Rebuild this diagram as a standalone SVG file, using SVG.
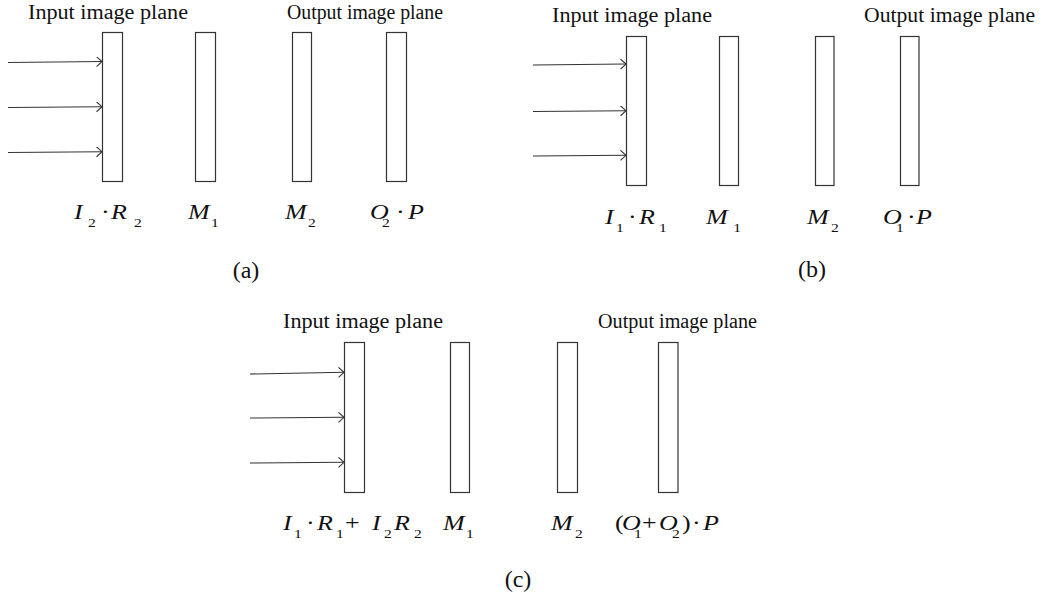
<svg xmlns="http://www.w3.org/2000/svg" width="1047" height="600" viewBox="0 0 1047 600">
<style>
.plane{fill:#fff;stroke:#333;stroke-width:1.2}
.ray{stroke:#333;stroke-width:1.1;fill:none}
.head{stroke:#333;stroke-width:1.1;fill:none}
.cap{font-family:"Liberation Serif",serif;font-size:20px;fill:#111}
.m{font-family:"Liberation Serif",serif;font-size:20px;font-style:italic;fill:#111}
.s{font-style:normal;font-size:12px}
.u{font-style:normal}
.tag{font-family:"Liberation Serif",serif;font-size:24px;fill:#111}
</style>
<defs>
<marker id="arr" markerWidth="8" markerHeight="12" refX="6" refY="5" orient="auto" markerUnits="userSpaceOnUse">
<path d="M0.5,0 L6,5 L0.5,10" class="head"/>
</marker>
</defs>

<!-- Panel (a) -->
<g id="panel-a">
<text class="cap" x="28" y="19" textLength="160" lengthAdjust="spacingAndGlyphs">Input image plane</text>
<text class="cap" x="287" y="19" textLength="156" lengthAdjust="spacingAndGlyphs">Output image plane</text>
<g id="a-input"><rect class="plane" x="102.5" y="32.5" width="20" height="149"/></g>
<g id="a-m1"><rect class="plane" x="195.5" y="32.5" width="20" height="149"/></g>
<g id="a-m2"><rect class="plane" x="292.5" y="32.5" width="19" height="149"/></g>
<g id="a-output"><rect class="plane" x="386.5" y="32.5" width="20" height="149"/></g>
<text class="m" transform="translate(74 0) scale(1.3 1)"><tspan x="0" y="219">I</tspan><tspan class="s" x="10.8" y="227">2</tspan><tspan class="u" x="20.8" y="219">·</tspan><tspan x="28.5" y="219">R</tspan><tspan class="s" x="46.2" y="227">2</tspan></text>
<text class="m" transform="translate(188 0) scale(1.3 1)"><tspan x="0" y="219">M</tspan><tspan class="s" x="17.7" y="227">1</tspan></text>
<text class="m" transform="translate(285 0) scale(1.3 1)"><tspan x="0" y="219">M</tspan><tspan class="s" x="17.7" y="227">2</tspan></text>
<text class="m" transform="translate(370 0) scale(1.3 1)"><tspan x="0" y="219">O</tspan><tspan class="s" x="9.2" y="227">2</tspan><tspan class="u" x="20" y="219">·</tspan><tspan x="29.2" y="219">P</tspan></text>
<text class="tag" x="246" y="278" text-anchor="middle">(a)</text>
</g>

<!-- Panel (b) -->
<g id="panel-b">
<text class="cap" x="552" y="22" textLength="160" lengthAdjust="spacingAndGlyphs">Input image plane</text>
<text class="cap" x="864" y="22" textLength="171" lengthAdjust="spacingAndGlyphs">Output image plane</text>
<g id="b-input"><rect class="plane" x="626.5" y="36.5" width="20" height="149"/></g>
<g id="b-m1"><rect class="plane" x="719.5" y="36.5" width="19" height="149"/></g>
<g id="b-m2"><rect class="plane" x="815.5" y="36.5" width="18.5" height="149"/></g>
<g id="b-output"><rect class="plane" x="900.5" y="36.5" width="18.5" height="149"/></g>
<text class="m" transform="translate(605 0) scale(1.3 1)"><tspan x="0" y="224">I</tspan><tspan class="s" x="8.5" y="232">1</tspan><tspan class="u" x="17.7" y="224">·</tspan><tspan x="26.2" y="224">R</tspan><tspan class="s" x="41.5" y="232">1</tspan></text>
<text class="m" transform="translate(706 0) scale(1.3 1)"><tspan x="0" y="224">M</tspan><tspan class="s" x="21" y="232">1</tspan></text>
<text class="m" transform="translate(807 0) scale(1.3 1)"><tspan x="0" y="224">M</tspan><tspan class="s" x="18.5" y="232">2</tspan></text>
<text class="m" transform="translate(883 0) scale(1.3 1)"><tspan x="0" y="224">O</tspan><tspan class="s" x="10" y="232">1</tspan><tspan class="u" x="18.5" y="224">·</tspan><tspan x="25.4" y="224">P</tspan></text>
<text class="tag" x="812" y="277" text-anchor="middle">(b)</text>
</g>

<!-- Panel (c) -->
<g id="panel-c">
<text class="cap" x="283" y="328" textLength="160" lengthAdjust="spacingAndGlyphs">Input image plane</text>
<text class="cap" x="598" y="328" textLength="159" lengthAdjust="spacingAndGlyphs">Output image plane</text>
<g id="c-input"><rect class="plane" x="344.5" y="342.5" width="20" height="150"/></g>
<g id="c-m1"><rect class="plane" x="450.5" y="342.5" width="19" height="150"/></g>
<g id="c-m2"><rect class="plane" x="557.5" y="342.5" width="20" height="150"/></g>
<g id="c-output"><rect class="plane" x="658.5" y="342.5" width="19.5" height="150"/></g>
<text class="m" transform="translate(283 0) scale(1.3 1)"><tspan x="0" y="530">I</tspan><tspan class="s" x="8.5" y="538">1</tspan><tspan class="u" x="17.7" y="530">·</tspan><tspan x="26.2" y="530">R</tspan><tspan class="s" x="40.8" y="538">1</tspan><tspan class="u" x="47.7" y="530">+</tspan><tspan x="68.5" y="530">I</tspan><tspan class="s" x="77.7" y="538">2</tspan><tspan x="85.4" y="530">R</tspan><tspan class="s" x="100.8" y="538">2</tspan></text>
<text class="m" transform="translate(443 0) scale(1.3 1)"><tspan x="0" y="530">M</tspan><tspan class="s" x="17.7" y="538">1</tspan></text>
<text class="m" transform="translate(551 0) scale(1.3 1)"><tspan x="0" y="530">M</tspan><tspan class="s" x="18.5" y="538">2</tspan></text>
<text class="m" transform="translate(615 0) scale(1.3 1)"><tspan class="u" x="0" y="530">(</tspan><tspan x="5.4" y="530">O</tspan><tspan class="s" x="14.6" y="538">1</tspan><tspan class="u" x="20.8" y="530">+</tspan><tspan x="33.8" y="530">O</tspan><tspan class="s" x="43.8" y="538">2</tspan><tspan class="u" x="51.5" y="530">)</tspan><tspan class="u" x="59.2" y="530">·</tspan><tspan x="67.7" y="530">P</tspan></text>
<text class="tag" x="518" y="587" text-anchor="middle">(c)</text>
</g>

<g id="connectors">
<line class="ray" x1="8" y1="62.5" x2="102" y2="61.5" marker-end="url(#arr)"/>
<line class="ray" x1="8" y1="107.5" x2="102" y2="106.7" marker-end="url(#arr)"/>
<line class="ray" x1="8" y1="152.5" x2="102" y2="151.7" marker-end="url(#arr)"/>
<line class="ray" x1="533" y1="65" x2="626" y2="64" marker-end="url(#arr)"/>
<line class="ray" x1="533" y1="111.5" x2="626" y2="110.7" marker-end="url(#arr)"/>
<line class="ray" x1="533" y1="156" x2="626" y2="155.3" marker-end="url(#arr)"/>
<line class="ray" x1="250" y1="374" x2="344" y2="372.3" marker-end="url(#arr)"/>
<line class="ray" x1="250" y1="418" x2="344" y2="417.3" marker-end="url(#arr)"/>
<line class="ray" x1="250" y1="463" x2="344" y2="462.3" marker-end="url(#arr)"/>
</g>
</svg>
